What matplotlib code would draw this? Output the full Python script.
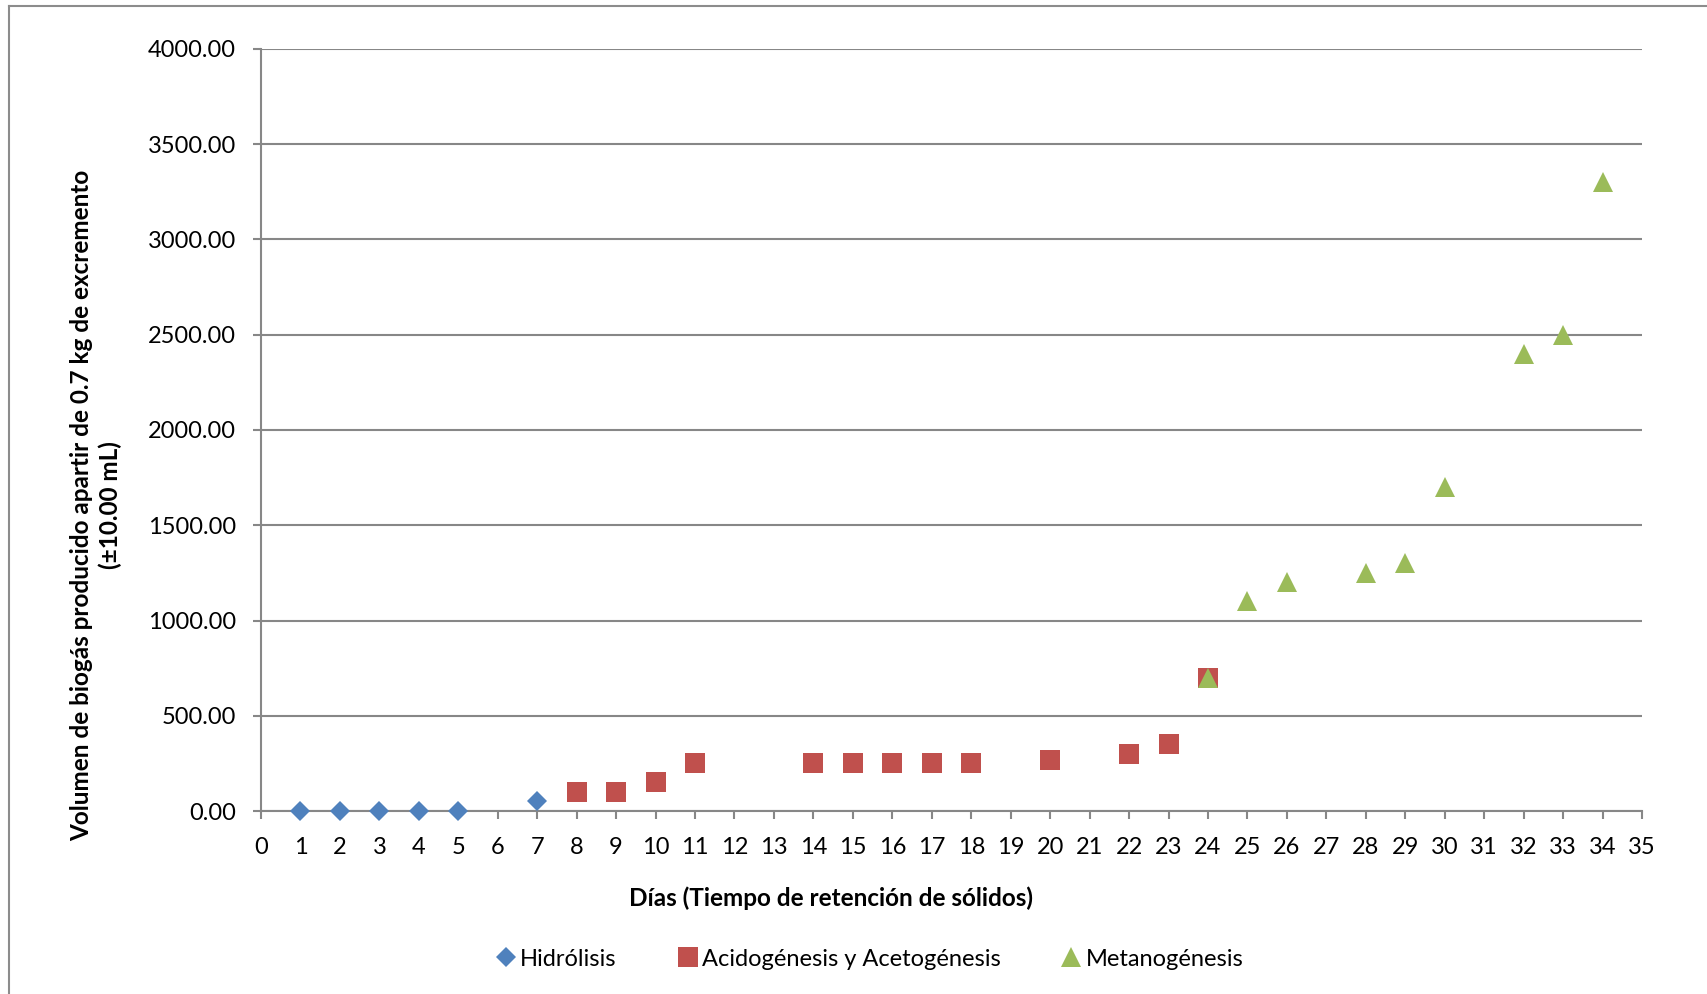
import matplotlib
matplotlib.use("Agg")
import matplotlib.pyplot as plt
from matplotlib.lines import Line2D
from matplotlib.ticker import FormatStrFormatter, MultipleLocator

plt.rcParams['font.family'] = ['Lato', 'DejaVu Sans']

# Hidrólisis
hid_days = [1, 2, 3, 4, 5, 7]
hid_vol = [0, 0, 0, 0, 0, 50]

# Acidogénesis y Acetogénesis
aci_days = [8, 9, 10, 11, 14, 15, 16, 17, 18, 20, 22, 23, 24]
aci_vol = [100, 100, 150, 250, 250, 250, 250, 250, 250, 270, 300, 350, 700]

# Metanogénesis
met_days = [24, 25, 26, 28, 29, 30, 32, 33, 34]
met_vol = [700, 1100, 1200, 1250, 1300, 1700, 2400, 2500, 3300]

labels = ["Hidrólisis", "Acidogénesis y Acetogénesis", "Metanogénesis"]
colors = ["#4F81BD", "#C0504D", "#9BBB59"]

W, H = 1707, 994
fig = plt.figure(figsize=(W / 100, H / 100), dpi=100)

# outer chart frame
fig.add_artist(Line2D([9 / W, 9 / W], [1 - 6 / H, -0.1], color="#8c8c8c", lw=1.5))
fig.add_artist(Line2D([9 / W, 1.1], [1 - 6 / H, 1 - 6 / H], color="#8c8c8c", lw=1.5))

ax = fig.add_axes([261 / W, 1 - 811 / H, (1642 - 261) / W, (811 - 49) / H])

grid_c = "#878787"
ax.plot(hid_days, hid_vol, linestyle="none", marker="D", ms=10.5, color=colors[0],
        mew=0, label=labels[0], zorder=3, clip_on=False)
ax.plot(aci_days, aci_vol, linestyle="none", marker="s", ms=14.8, color=colors[1],
        mew=0, label=labels[1], zorder=3, clip_on=False)
ax.plot(met_days, met_vol, linestyle="none", marker="^", ms=15, color=colors[2],
        mew=0, label=labels[2], zorder=4, clip_on=False)

ax.set_xlim(0, 35)
ax.set_ylim(0, 4000)
ax.xaxis.set_major_locator(MultipleLocator(1))
ax.yaxis.set_major_locator(MultipleLocator(500))
ax.yaxis.set_major_formatter(FormatStrFormatter("%.2f"))
ax.grid(axis="y", color=grid_c, lw=1.5)
ax.set_axisbelow(True)

for side in ("top", "right"):
    ax.spines[side].set_visible(False)
for side in ("left", "bottom"):
    ax.spines[side].set_color(grid_c)
    ax.spines[side].set_linewidth(1.5)

ax.tick_params(axis="both", direction="out", length=6, width=1.5, color=grid_c,
               labelsize=17, labelcolor="black")
ax.tick_params(axis="x", pad=12.5)
ax.tick_params(axis="y", pad=12)

fig.text(96 / W, 1 - 505 / H,
         "Volumen de biogás producido apartir de 0.7 kg de excremento\n(±10.00 mL)",
         rotation=90, ha="center", va="center", multialignment="center",
         fontsize=17.5, fontweight="bold", linespacing=1.3)
fig.text(831 / W, 1 - 898 / H, "Días (Tiempo de retención de sólidos)",
         ha="center", va="center", fontsize=17.5, fontweight="bold")

fig.legend(loc="center", bbox_to_anchor=(870 / W, 1 - 959 / H), ncol=3, frameon=False,
           fontsize=17, handlelength=0.8, handletextpad=0.2, columnspacing=2.6,
           markerscale=0.95)

fig.savefig("out.png", dpi=100)
